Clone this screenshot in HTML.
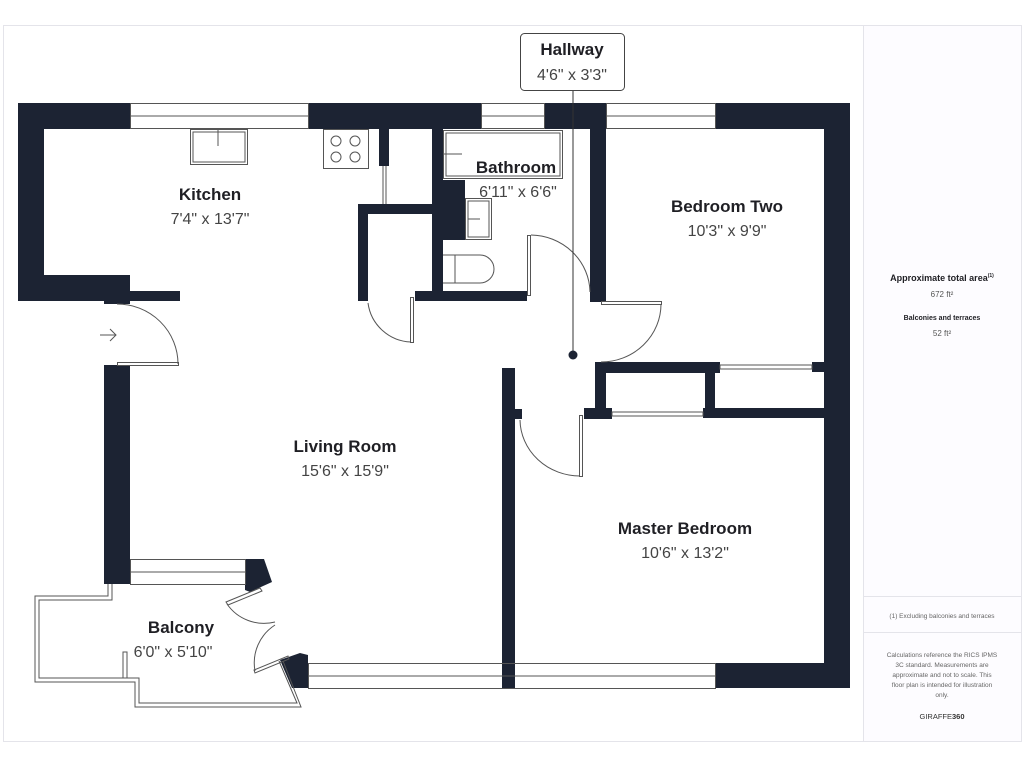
<!DOCTYPE html>
<html><head><meta charset="utf-8"><style>
html,body{margin:0;padding:0;background:#fff;}
svg{display:block;font-family:"Liberation Sans",sans-serif;}
</style></head><body>
<svg width="1024" height="768" viewBox="0 0 1024 768" xmlns="http://www.w3.org/2000/svg">
<rect x="0" y="0" width="1024" height="768" fill="#fff"/>
<rect x="863" y="25" width="159" height="717" fill="#fdfcff"/>
<rect x="3.5" y="25.5" width="1018" height="716" fill="none" stroke="#e4e4ea"/>
<line x1="863.5" y1="25" x2="863.5" y2="742" stroke="#e4e4ea"/>
<line x1="863" y1="596.5" x2="1022" y2="596.5" stroke="#e4e4ea"/>
<line x1="863" y1="632.5" x2="1022" y2="632.5" stroke="#e4e4ea"/>

<g fill="#1c2333">
<!-- top wall -->
<rect x="18" y="103" width="112" height="26"/>
<rect x="308" y="103" width="173" height="26"/>
<rect x="544" y="103" width="62" height="26"/>
<rect x="715" y="103" width="135" height="26"/>
<!-- left kitchen wall -->
<rect x="18" y="103" width="26" height="198"/>
<rect x="18" y="275" width="112" height="26"/>
<rect x="130" y="291" width="50" height="10"/>
<rect x="104" y="297" width="26" height="7"/>
<!-- living left wall -->
<rect x="104" y="365" width="26" height="219"/>
<polygon points="245,559 264,559 272,582 250,592 245,590"/>
<polygon points="280,660 300,653 308,655 308,688 292,688"/>
<!-- right wall -->
<rect x="824" y="103" width="26" height="585"/>
<rect x="715" y="663" width="135" height="25"/>
<!-- living/master wall -->
<rect x="502" y="368" width="13" height="320"/>
<rect x="502" y="409" width="20" height="10"/>
<!-- kitchen stub -->
<rect x="379" y="129" width="10" height="37"/>
<!-- closet -->
<rect x="358" y="204" width="10" height="97"/>
<rect x="358" y="204" width="84" height="10"/>
<!-- bathroom -->
<rect x="432" y="129" width="11" height="172"/>
<rect x="443" y="180" width="22" height="60"/>
<rect x="415" y="291" width="112" height="10"/>
<rect x="590" y="129" width="16" height="173"/>
<rect x="590" y="292" width="11" height="10"/>
<!-- bedroom two bottom / closet -->
<rect x="595" y="362" width="125" height="11"/>
<rect x="595" y="362" width="11" height="56"/>
<rect x="584" y="408" width="28" height="11"/>
<rect x="705" y="362" width="10" height="56"/>
<rect x="703" y="408" width="121" height="10"/>
<rect x="812" y="362" width="12" height="10"/>
</g>

<g fill="none" stroke="#555" stroke-width="1">
<!-- windows -->
<rect x="130.5" y="103.5" width="178" height="25"/><line x1="130" y1="116" x2="308" y2="116"/>
<rect x="481.5" y="103.5" width="63" height="25"/><line x1="481" y1="116" x2="544" y2="116"/>
<rect x="606.5" y="103.5" width="109" height="25"/><line x1="606" y1="116" x2="715" y2="116"/>
<rect x="130.5" y="559.5" width="115" height="25"/><line x1="130" y1="572" x2="245" y2="572"/>
<rect x="308.5" y="663.5" width="407" height="25"/><line x1="308" y1="676" x2="715" y2="676"/>
<!-- sliding doors -->
<rect x="720" y="365" width="92" height="4"/>
<rect x="612" y="412" width="91" height="4"/>
<!-- kitchen -->
<rect x="190.5" y="129.5" width="57" height="35"/><rect x="193" y="132" width="52" height="30"/>
<line x1="218" y1="129" x2="218" y2="146"/>
<rect x="323.5" y="129.5" width="45" height="39"/>
<circle cx="336" cy="141" r="5"/><circle cx="355" cy="141" r="5"/>
<circle cx="336" cy="157" r="5"/><circle cx="355" cy="157" r="5"/>
<line x1="383" y1="166" x2="383" y2="204"/><line x1="386" y1="166" x2="386" y2="204"/>
<!-- closet door -->
<rect x="410.5" y="297.5" width="3" height="45"/>
<path d="M368 303 A45 45 0 0 0 411 342"/>
<!-- entrance door -->
<rect x="117.5" y="362.5" width="61" height="3"/>
<path d="M117 304 A61 60 0 0 1 178 364"/>
<path d="M100 335 L116 335 M110 329 L116 335 L110 341"/>
<!-- bathroom -->
<rect x="443.5" y="130.5" width="119" height="48"/><rect x="446" y="133" width="114" height="43"/>
<line x1="443" y1="154" x2="462" y2="154"/>
<rect x="465.5" y="198.5" width="26" height="41"/><rect x="468" y="201" width="21" height="36"/>
<line x1="468" y1="219" x2="480" y2="219"/>
<path d="M443 255 L480 255 A14 14 0 0 1 480 283 L443 283"/>
<line x1="455" y1="255" x2="455" y2="283"/>
<!-- bathroom door -->
<rect x="527.5" y="235.5" width="3" height="60"/>
<path d="M531 235 A60 58 0 0 1 590 292"/>
<!-- bedroom two door -->
<rect x="601.5" y="301.5" width="60" height="3"/>
<path d="M661 304 A60 58 0 0 1 601 362"/>
<!-- master door -->
<rect x="579.5" y="415.5" width="3" height="61"/>
<path d="M520 420 A60 57 0 0 0 580 476"/>
<!-- balcony outline -->
<path d="M108 584 L108 596 L35 596 L35 682 L135 682 L135 707 L301 707 L283 661"/>
<path d="M112 584 L112 600 L39 600 L39 678 L127 678 L127 652 L123 652 L123 678 L139 678 L139 703 L297 703 L279 661"/>
<!-- balcony doors -->
<polygon points="226,602 260,588 262,591 228,605"/>
<path d="M227 604 A45 45 0 0 0 275 622"/>
<polygon points="254,670 288,656 289,659 255,673"/>
<path d="M255 671 A45 45 0 0 1 275 625"/>
</g>

<!-- hallway pointer -->
<line x1="573" y1="90" x2="573" y2="355" stroke="#333" stroke-width="1"/>
<circle cx="573" cy="355" r="4.5" fill="#1c2333"/>
<rect x="520.5" y="33.5" width="104" height="57" rx="4" fill="#fff" stroke="#444"/>

<g text-anchor="middle" fill="#1f1f24">
<text x="572" y="55" font-size="17" font-weight="bold">Hallway</text>
<text x="572" y="80" font-size="16" fill="#444">4'6" x 3'3"</text>
<text x="210" y="200" font-size="17" font-weight="bold">Kitchen</text>
<text x="210" y="224" font-size="16" fill="#444">7'4" x 13'7"</text>
<text x="516" y="173" font-size="17" font-weight="bold">Bathroom</text>
<text x="518" y="197" font-size="16" fill="#444">6'11" x 6'6"</text>
<text x="727" y="212" font-size="17" font-weight="bold">Bedroom Two</text>
<text x="727" y="236" font-size="16" fill="#444">10'3" x 9'9"</text>
<text x="345" y="452" font-size="17" font-weight="bold">Living Room</text>
<text x="345" y="476" font-size="16" fill="#444">15'6" x 15'9"</text>
<text x="685" y="534" font-size="17" font-weight="bold">Master Bedroom</text>
<text x="685" y="558" font-size="16" fill="#444">10'6" x 13'2"</text>
<text x="181" y="633" font-size="17" font-weight="bold">Balcony</text>
<text x="173" y="657" font-size="16" fill="#444">6'0" x 5'10"</text>

<text x="942" y="281" font-size="9" font-weight="bold">Approximate total area<tspan font-size="5" dy="-4">(1)</tspan></text>
<text x="942" y="297" font-size="8" fill="#555">672 ft²</text>
<text x="942" y="320" font-size="7" font-weight="bold">Balconies and terraces</text>
<text x="942" y="336" font-size="8" fill="#555">52 ft²</text>
<text x="942" y="618" font-size="6.5" fill="#666">(1) Excluding balconies and terraces</text>
<g font-size="6.5" fill="#666">
<text x="942" y="657">Calculations reference the RICS IPMS</text>
<text x="942" y="667">3C standard. Measurements are</text>
<text x="942" y="677">approximate and not to scale. This</text>
<text x="942" y="687">floor plan is intended for illustration</text>
<text x="942" y="697">only.</text>
</g>
<text x="942" y="719" font-size="7.5" fill="#333">GIRAFFE<tspan font-weight="bold">360</tspan></text>
</g>
</svg>
</body></html>
